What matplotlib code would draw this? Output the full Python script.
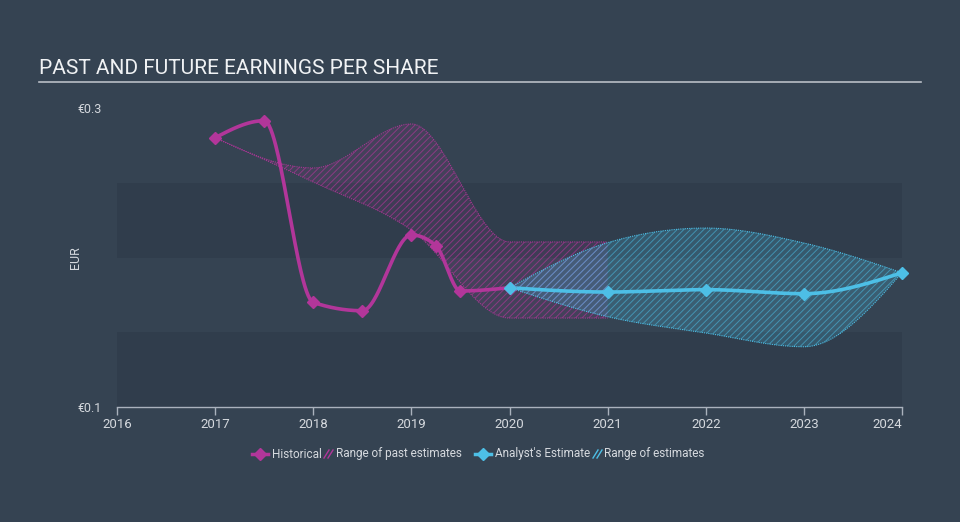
import matplotlib
matplotlib.use("Agg")
import matplotlib.pyplot as plt
import numpy as np
from matplotlib.lines import Line2D

# datos (EPS en EUR)
hist_x = [2017.0, 2017.5, 2018.0, 2018.5, 2019.0, 2019.25, 2019.5, 2020.0]
hist_y = [0.2801, 0.2915, 0.1700, 0.1644, 0.2151, 0.2079, 0.1776, 0.1798]

past_rng_x = [2017.0, 2018.0, 2019.0, 2020.0, 2021.0]
past_rng_hi = [0.2801, 0.2599, 0.2893, 0.2104, 0.2104]
past_rng_lo = [0.2801, 0.2505, 0.2184, 0.1595, 0.1595]

fc_x = [2020.0, 2021.0, 2022.0, 2023.0, 2024.0]
fc_y = [0.1798, 0.1769, 0.1785, 0.1758, 0.1898]
fc_hi = [0.1798, 0.2099, 0.2197, 0.2097, 0.1898]
fc_lo = [0.1798, 0.1604, 0.1495, 0.1403, 0.1898]

anios = [2016, 2017, 2018, 2019, 2020, 2021, 2022, 2023, 2024]

BG = '#354352'
BANDA = '#303d4c'
MAGENTA = '#b2369a'
CIAN = '#4dbfe6'
TEXTO = '#d5d9de'

plt.rcParams['font.family'] = ['Roboto', 'DejaVu Sans']


def monotona(x, y, n=60):
    '''Curva cubica monotona (como d3.curveMonotoneX), solo para dibujar'''
    x = np.asarray(x, float)
    y = np.asarray(y, float)
    h = np.diff(x)
    s = np.diff(y) / h
    t = np.zeros(len(x))
    for i in range(1, len(x) - 1):
        h0, h1 = h[i - 1], h[i]
        s0, s1 = s[i - 1], s[i]
        p = (s0 * h1 + s1 * h0) / (h0 + h1)
        t[i] = (np.sign(s0) + np.sign(s1)) * min(abs(s0), abs(s1), 0.5 * abs(p))
    if len(x) > 2:
        t[0] = (3 * s[0] - t[1]) / 2
        t[-1] = (3 * s[-1] - t[-2]) / 2
    else:
        t[:] = s[0]
    xs, ys = [], []
    for i in range(len(x) - 1):
        u = np.linspace(0, 1, n)
        h00 = 2 * u**3 - 3 * u**2 + 1
        h10 = u**3 - 2 * u**2 + u
        h01 = -2 * u**3 + 3 * u**2
        h11 = u**3 - u**2
        yy = h00 * y[i] + h10 * h[i] * t[i] + h01 * y[i + 1] + h11 * h[i] * t[i + 1]
        xs.append(x[i] + u * h[i])
        ys.append(yy)
    return np.concatenate(xs), np.concatenate(ys)


fig = plt.figure(figsize=(9.6, 5.22), dpi=100)
fig.patch.set_facecolor(BG)
ax = fig.add_axes([117 / 960, 1 - 407 / 522, 785 / 960, 299 / 522])
ax.set_facecolor(BG)
ax.set_xlim(2016, 2024)
ax.set_ylim(0.1, 0.3)

# bandas de fondo
for y0 in (0.1, 0.2):
    ax.axhspan(y0, y0 + 0.05, color=BANDA, zorder=0, lw=0)

plt.rcParams['hatch.linewidth'] = 0.7

# rango de estimaciones pasadas
px, phi = monotona(past_rng_x, past_rng_hi)
_, plo = monotona(past_rng_x, past_rng_lo)
ax.fill_between(px, plo, phi, facecolor=MAGENTA, alpha=0.12, lw=0, zorder=1)
ax.fill_between(px, plo, phi, facecolor='none', edgecolor=MAGENTA, hatch='/////',
                lw=0, alpha=0.65, zorder=1)
ax.plot(px, phi, color=MAGENTA, lw=0.8, ls=(0, (1, 1)), alpha=0.9, zorder=2)
ax.plot(px, plo, color=MAGENTA, lw=0.8, ls=(0, (1, 1)), alpha=0.9, zorder=2)

# rango de estimaciones de analistas
fx, fhi = monotona(fc_x, fc_hi)
_, flo = monotona(fc_x, fc_lo)
ax.fill_between(fx, flo, fhi, facecolor=CIAN, alpha=0.22, lw=0, zorder=1)
ax.fill_between(fx, flo, fhi, facecolor='none', edgecolor=CIAN, hatch='/////',
                lw=0, alpha=0.55, zorder=1)
ax.plot(fx, fhi, color=CIAN, lw=0.8, ls=(0, (1, 1)), zorder=2)
ax.plot(fx, flo, color=CIAN, lw=0.8, ls=(0, (1, 1)), zorder=2)

# lineas
hx, hy = monotona(hist_x, hist_y)
ax.plot(hx, hy, color=MAGENTA, lw=2.6, zorder=3, solid_capstyle='round')
ax.plot(hist_x, hist_y, ls='none', marker='D', ms=6, color=MAGENTA, zorder=4)
cx, cy = monotona(fc_x, fc_y)
ax.plot(cx, cy, color=CIAN, lw=2.6, zorder=3, solid_capstyle='round')
ax.plot(fc_x, fc_y, ls='none', marker='D', ms=6, color=CIAN, zorder=4, clip_on=False)

# ejes
for lado in ('top', 'right', 'left'):
    ax.spines[lado].set_visible(False)
ax.spines['bottom'].set_color('#aab2bd')
ax.spines['bottom'].set_linewidth(1)
ax.set_xticks(anios)
ax.set_xticklabels([str(a) for a in anios])
ax.get_xticklabels()[-1].set_ha('right')
ax.tick_params(axis='x', colors='#aab2bd', labelcolor=TEXTO, length=6, width=1,
               labelsize=9.5, pad=2)
ax.set_yticks([0.1, 0.3])
ax.set_yticklabels(['€0.1', '€0.3'])
ax.tick_params(axis='y', length=0, labelcolor=TEXTO, labelsize=9, pad=11)
ax.set_ylabel('EUR', color=TEXTO, fontsize=9)
ax.yaxis.set_label_coords(-35 / 785, 0.5)

# titulo
fig.text(39 / 960, 1 - 69 / 522, 'PAST AND FUTURE EARNINGS PER SHARE', color='#f0f2f4',
         fontsize=15, va='center', ha='left')
fig.add_artist(Line2D([39 / 960, 921 / 960], [1 - 82 / 522] * 2, color='#b8bec6', lw=1.2))

# leyenda
ly = 1 - 454 / 522


def icono_rayado(x0, color):
    for dx in (0, 4):
        fig.add_artist(Line2D([(x0 + dx) / 960, (x0 + dx + 5) / 960],
                              [ly - 4 / 522, ly + 4 / 522], color=color, lw=1))


fig.add_artist(Line2D([252 / 960, 268 / 960], [ly, ly], color=MAGENTA, lw=2.5))
fig.add_artist(Line2D([260 / 960], [ly], color=MAGENTA, marker='D', ms=6))
fig.text(272 / 960, ly, 'Historical', color=TEXTO, fontsize=8.5, va='center')
icono_rayado(324, MAGENTA)
fig.text(336 / 960, ly, 'Range of past estimates', color=TEXTO, fontsize=8.5, va='center')
fig.add_artist(Line2D([475 / 960, 491 / 960], [ly, ly], color=CIAN, lw=2.5))
fig.add_artist(Line2D([483 / 960], [ly], color=CIAN, marker='D', ms=6))
fig.text(495 / 960, ly, "Analyst's Estimate", color=TEXTO, fontsize=8.5, va='center')
icono_rayado(593, CIAN)
fig.text(604 / 960, ly, 'Range of estimates', color=TEXTO, fontsize=8.5, va='center')

fig.savefig('out.png', dpi=100, facecolor=BG)
